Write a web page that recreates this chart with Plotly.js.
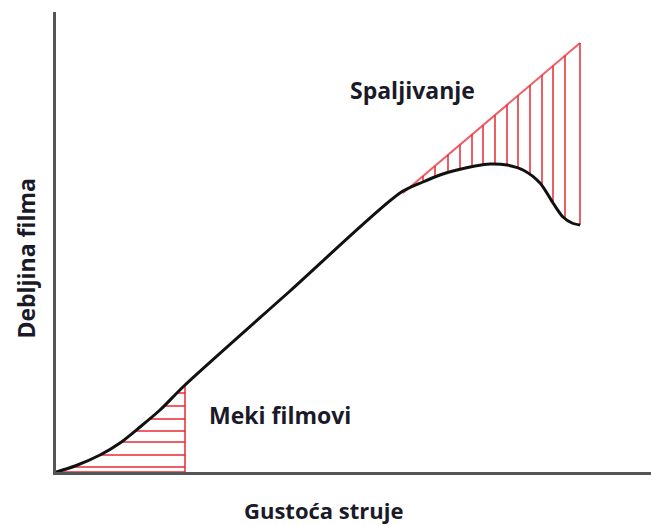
<!DOCTYPE html>
<html>
<head>
<meta charset="utf-8">
<script src="https://cdn.plot.ly/plotly-3.0.1.min.js"></script>
<style>html,body{margin:0;padding:0;background:#fff;}#chart{width:651px;height:526px;}</style>
</head>
<body>
<div id="chart"></div>
<script>
// Main curve (film thickness vs current density), arbitrary units
const curveX = [0, 19, 44, 64, 84, 104, 129, 234, 344, 367, 384, 401, 419, 434, 451, 467, 484, 497, 507, 516, 524];
const curveY = [0, 6, 17, 29, 45, 62, 87, 181, 279, 290, 297, 302, 306, 308, 307, 302, 289, 269, 255, 249, 247];

// Upper red boundary (extension of the linear part), "Spaljivanje" region
const burnLineX = [347, 524];
const burnLineY = [279, 429];
const burnHatchX = [356, 367, 379, 392, 404, 416, 427, 439, 451, 462, 474, 486, 497, 509, 524];

// Lower "Meki filmovi" region: vertical edge and horizontal hatch levels
const softEdgeX = 129;
const softHatchY = [0, 5, 17, 30, 41, 53, 66, 79];

const labels = {burn: "Spaljivanje", soft: "Meki filmovi", xTitle: "Gustoća struje", yTitle: "Debljina filma"};

function interpY(x) {
  for (let i = 0; i < curveX.length - 1; i++) {
    if (x >= curveX[i] && x <= curveX[i + 1]) {
      const t = (x - curveX[i]) / (curveX[i + 1] - curveX[i]);
      return curveY[i] + t * (curveY[i + 1] - curveY[i]);
    }
  }
  return curveY[curveY.length - 1];
}
function interpX(y) {
  for (let i = 0; i < curveY.length - 1; i++) {
    if (y >= curveY[i] && y <= curveY[i + 1]) {
      const t = (y - curveY[i]) / (curveY[i + 1] - curveY[i]);
      return curveX[i] + t * (curveX[i + 1] - curveX[i]);
    }
  }
  return curveX[0];
}
function lineY(x) {
  const t = (x - burnLineX[0]) / (burnLineX[1] - burnLineX[0]);
  return burnLineY[0] + t * (burnLineY[1] - burnLineY[0]);
}

// Build hatch segments
const hx = [], hy = [];
burnHatchX.forEach(x => { hx.push(x, x, null); hy.push(interpY(x), lineY(x), null); });
softHatchY.forEach(y => { hx.push(interpX(y), softEdgeX, null); hy.push(y, y, null); });

const red = "rgba(232,40,52,0.75)";
const traces = [
  {x: hx, y: hy, mode: "lines", line: {color: red, width: 2}, hoverinfo: "skip", connectgaps: false},
  {x: burnLineX, y: burnLineY, mode: "lines", line: {color: red, width: 2}, hoverinfo: "skip"},
  {x: [softEdgeX, softEdgeX], y: [0, interpY(softEdgeX)], mode: "lines", line: {color: red, width: 2}, hoverinfo: "skip"},
  {x: curveX, y: curveY, mode: "lines", line: {color: "#111", width: 3, shape: "spline", smoothing: 0.8}, hoverinfo: "skip"}
];

const fnt = {family: "'Open Sans', sans-serif", size: 23, color: "#1a1a28", weight: "bold"};
const fntX = {family: "'Open Sans', sans-serif", size: 22, color: "#1a1a28", weight: "bold"};
const layout = {
  width: 651, height: 526,
  margin: {l: 56, r: 0, t: 12, b: 54},
  paper_bgcolor: "#fff", plot_bgcolor: "#fff",
  showlegend: false,
  xaxis: {range: [0, 595], showline: true, linecolor: "#555", linewidth: 3, showgrid: false, zeroline: false, showticklabels: false, ticks: "", fixedrange: true},
  yaxis: {range: [0, 460], showline: true, linecolor: "#555", linewidth: 3, showgrid: false, zeroline: false, showticklabels: false, ticks: "", fixedrange: true},
  annotations: [
    {x: 356, y: 382, xref: "x", yref: "y", xanchor: "center", yanchor: "middle", text: "<b>" + labels.burn + "</b>", showarrow: false, font: fnt},
    {x: 224, y: 57, xref: "x", yref: "y", xanchor: "center", yanchor: "middle", text: "<b>" + labels.soft + "</b>", showarrow: false, font: fnt},
    {x: 0.449, y: -0.082, xref: "paper", yref: "paper", xanchor: "center", yanchor: "middle", text: "<b>" + labels.xTitle + "</b>", showarrow: false, font: fntX},
    {x: -0.052, y: 0.464, xref: "paper", yref: "paper", xanchor: "center", yanchor: "middle", text: "<b>" + labels.yTitle + "</b>", showarrow: false, textangle: -90, font: fnt}
  ]
};
Plotly.newPlot("chart", traces, layout, {staticPlot: true, displayModeBar: false});
</script>
</body>
</html>
